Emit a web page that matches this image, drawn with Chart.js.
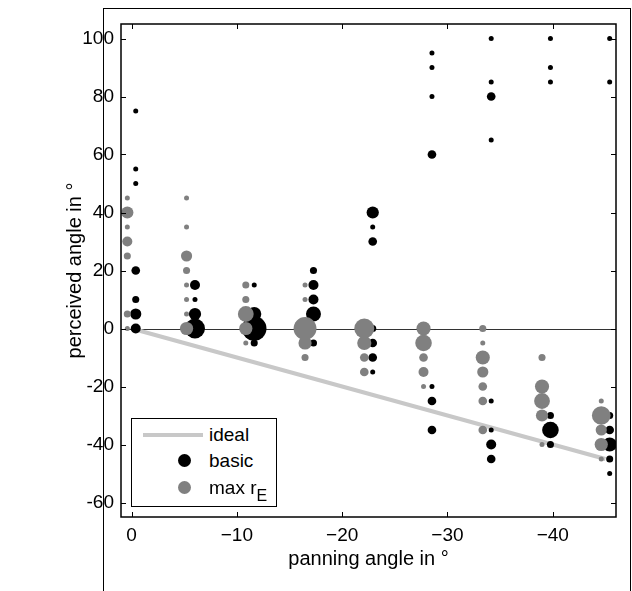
<!DOCTYPE html>
<html>
<head>
<meta charset="utf-8">
<script src="https://cdn.jsdelivr.net/npm/chart.js@4.4.1/dist/chart.umd.min.js"></script>
<style>
  html, body { margin: 0; padding: 0; background: #fff; }
  #wrap { position: relative; width: 632px; height: 591px; }
  #legend {
    position: absolute; left: 131px; top: 418px; width: 144px; height: 87px;
    border: 1px solid #000; background: #fff;
    font-family: "Liberation Sans", Arial, sans-serif; font-size: 19px; color: #000;
  }
  #legend .row { position: absolute; left: 0; width: 100%; height: 24px; }
  #legend .txt { position: absolute; left: 77px; top: 0; line-height: 24px; white-space: nowrap; }
  #legend .line { position: absolute; left: 11px; top: 10px; width: 60px; height: 4px; background: #c8c8c8; }
  #legend .dot { position: absolute; left: 46px; top: 5px; width: 13px; height: 13px; border-radius: 50%; }
  #legend sub { font-size: 16px; vertical-align: -7px; }
</style>
</head>
<body>
<div id="wrap">
  <canvas id="chart" width="632" height="591"></canvas>
  <div id="legend">
    <div class="row" style="top:4px"><div class="line"></div><span class="txt">ideal</span></div>
    <div class="row" style="top:30px"><div class="dot" style="background:#000"></div><span class="txt">basic</span></div>
    <div class="row" style="top:57px"><div class="dot" style="background:#808080"></div><span class="txt">max r<sub>E</sub></span></div>
  </div>
</div>
<script>
// panning angles of the loudspeaker positions
const panAngles = [0, -5.625, -11.25, -16.875, -22.5, -28.125, -33.75, -39.375, -45];
const xTicks = [0, -10, -20, -30, -40];
const yTicks = [-60, -40, -20, 0, 20, 40, 60, 80, 100];
const idealX = [0, -45];
const idealY = [0, -45];

// perceived angles per panning angle, and how many answers each
const basicAngles = [
  [75, 55, 50, 20, 10, 5, 0],
  [15, 10, 5, 0],
  [15, 5, 0, -5],
  [20, 15, 10, 5, -5],
  [40, 35, 30, 0, -5, -10, -15],
  [95, 90, 80, 60, -20, -25, -35],
  [100, 85, 80, 65, -25, -35, -40, -45],
  [100, 90, 85, -30, -35, -40],
  [100, 85, -30, -35, -40, -45, -50]
];
const basicCounts = [
  [1, 1, 1, 3, 2, 5, 4],
  [4, 1, 6, 16],
  [1, 8, 24, 2],
  [2, 4, 4, 9, 2],
  [6, 1, 3, 2, 3, 3, 1],
  [1, 1, 1, 3, 1, 3, 3],
  [1, 1, 3, 1, 1, 1, 4, 3],
  [1, 1, 1, 2, 11, 2],
  [1, 1, 2, 3, 8, 2, 1]
];
const maxReAngles = [
  [45, 40, 35, 30, 25, 5, 0],
  [45, 35, 25, 20, 15, 10, 5, 0],
  [15, 10, 5, 0, -5],
  [15, 10, 0, -5, -10],
  [0, -5, -10, -15],
  [0, -5, -10, -15, -20],
  [0, -5, -10, -15, -20, -25, -35],
  [-10, -20, -25, -30, -40],
  [-25, -30, -35, -40, -45]
];
const maxReCounts = [
  [1, 6, 1, 4, 2, 2, 1],
  [1, 1, 5, 2, 1, 1, 1, 7],
  [2, 2, 10, 7, 1],
  [1, 1, 21, 7, 2],
  [16, 8, 3, 3],
  [8, 11, 3, 4, 1],
  [2, 1, 8, 5, 3, 3, 3],
  [2, 8, 10, 6, 1],
  [1, 14, 5, 7, 1]
];

const FONT = "Liberation Sans";
const dodge = 0.4; // side by side shift of the two systems

function bubbles(angles, counts, shift) {
  const pts = [];
  angles.forEach((col, i) => {
    col.forEach((a, j) => {
      pts.push({ x: panAngles[i] + shift, y: a, r: 2.5 * Math.sqrt(counts[i][j]) });
    });
  });
  return pts;
}

// axes box, inward ticks, zero line and outer frame (matlab look)
const boxPlugin = {
  id: "box",
  beforeDraw(chart) {
    const ctx = chart.ctx;
    ctx.save();
    ctx.strokeStyle = "#000";
    ctx.lineWidth = 1;
    ctx.strokeRect(103.5, 8.5, 527, 620);
    ctx.restore();
  },
  beforeDatasetsDraw(chart) {
    const { ctx, chartArea: a, scales } = chart;
    const y0 = Math.round(scales.y.getPixelForValue(0)) + 0.5;
    ctx.save();
    ctx.strokeStyle = "#333";
    ctx.lineWidth = 1;
    ctx.beginPath();
    ctx.moveTo(a.left, y0);
    ctx.lineTo(a.right, y0);
    ctx.stroke();
    ctx.restore();
  },
  afterDraw(chart) {
    const { ctx, chartArea: a, scales } = chart;
    const len = 5;
    ctx.save();
    ctx.strokeStyle = "#000";
    ctx.lineWidth = 1.5;
    ctx.strokeRect(a.left, a.top, a.right - a.left, a.bottom - a.top);
    ctx.lineWidth = 1;
    ctx.beginPath();
    xTicks.forEach(v => {
      const px = Math.round(scales.x.getPixelForValue(v)) + 0.5;
      ctx.moveTo(px, a.bottom); ctx.lineTo(px, a.bottom - len);
      ctx.moveTo(px, a.top); ctx.lineTo(px, a.top + len);
    });
    yTicks.forEach(v => {
      const py = Math.round(scales.y.getPixelForValue(v)) + 0.5;
      ctx.moveTo(a.left, py); ctx.lineTo(a.left + len, py);
      ctx.moveTo(a.right, py); ctx.lineTo(a.right - len, py);
    });
    ctx.stroke();
    ctx.restore();
  }
};

new Chart(document.getElementById("chart"), {
  type: "bubble",
  data: {
    datasets: [
      {
        label: "max rE",
        data: bubbles(maxReAngles, maxReCounts, dodge),
        backgroundColor: "#808080",
        borderWidth: 0,
        order: 1
      },
      {
        label: "basic",
        data: bubbles(basicAngles, basicCounts, -dodge),
        backgroundColor: "#000",
        borderWidth: 0,
        order: 2
      },
      {
        type: "line",
        label: "ideal",
        data: idealX.map((x, i) => ({ x, y: idealY[i] })),
        borderColor: "#c8c8c8",
        borderWidth: 4,
        pointRadius: 0,
        fill: false,
        order: 3
      }
    ]
  },
  options: {
    responsive: false,
    animation: false,
    events: [],
    layout: { padding: { left: 0, right: 16, top: 24, bottom: 0 } },
    plugins: { legend: { display: false }, tooltip: { enabled: false } },
    scales: {
      x: {
        type: "linear",
        reverse: true,
        min: -46,
        max: 1,
        grid: { display: false, drawTicks: false },
        border: { display: false },
        afterBuildTicks: s => { s.ticks = xTicks.map(v => ({ value: v })); },
        afterFit: s => { s.height = 74; },
        ticks: {
          padding: 7,
          color: "#000",
          font: { family: FONT, size: 19 },
          callback: v => String(v).replace("-", "\u2212")
        },
        title: {
          display: true,
          text: "panning angle in °",
          color: "#000",
          font: { family: FONT, size: 20 },
          padding: { top: 0, bottom: 20 }
        }
      },
      y: {
        type: "linear",
        min: -65,
        max: 105,
        grid: { display: false, drawTicks: false },
        border: { display: false },
        afterBuildTicks: s => { s.ticks = yTicks.map(v => ({ value: v })); },
        afterFit: s => { s.width = 121; },
        ticks: {
          padding: 7,
          color: "#000",
          font: { family: FONT, size: 19 }
        },
        title: {
          display: true,
          text: "perceived angle in °",
          color: "#000",
          font: { family: FONT, size: 20 },
          padding: { top: 63, bottom: 0 }
        }
      }
    }
  },
  plugins: [boxPlugin]
});
</script>
</body>
</html>
